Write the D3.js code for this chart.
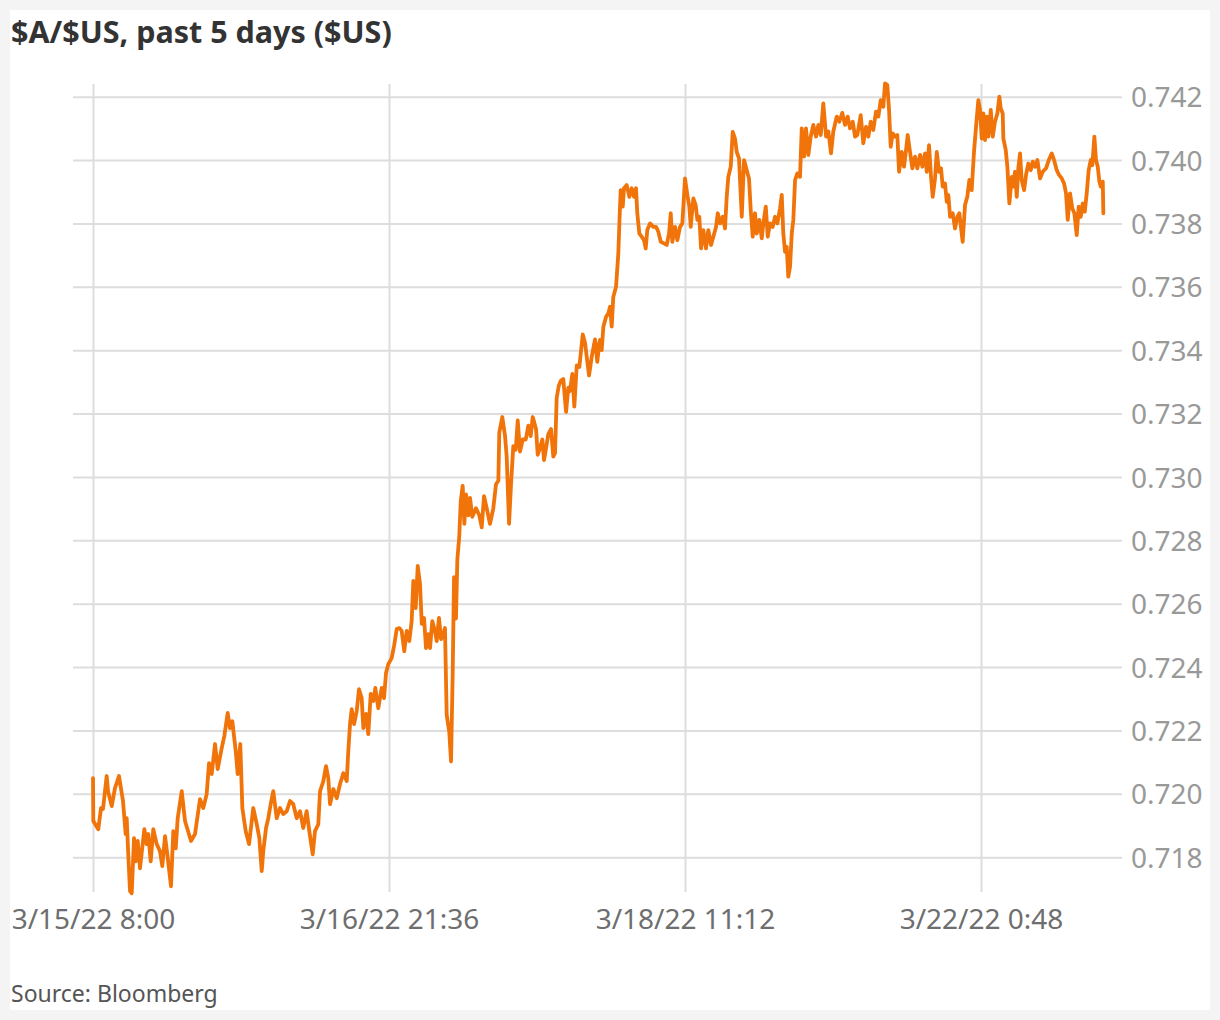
<!DOCTYPE html>
<html><head><meta charset="utf-8">
<script src="https://cdn.jsdelivr.net/npm/d3@7"></script>
<style>
html,body{margin:0;padding:0;background:#f4f4f4;}
svg{display:block;font-family:"Noto Sans","Open Sans",sans-serif;}
</style></head><body>
<svg id="chart" width="1220" height="1020"></svg>
<script>
const titleText = "$A/$US, past 5 days ($US)";
const sourceText = "Source: Bloomberg";
// trading hours since 3/15/22 8:00 (weekend removed)
const xTickHours = [0, 37.6, 75.2, 112.8];
const xTickLabels = ["3/15/22 8:00", "3/16/22 21:36", "3/18/22 11:12", "3/22/22 0:48"];
const yTicks = [0.718, 0.720, 0.722, 0.724, 0.726, 0.728, 0.730, 0.732, 0.734, 0.736, 0.738, 0.740, 0.742];

const hours = [
0,0.04,0.67,1.02,1.27,1.74,1.91,2.38,2.79,3.30,3.81,4.15,4.28,4.48,4.70,4.92,5.21,5.42,5.68,5.97,6.52,6.82,7.02,7.33,7.66,8.09,8.51,8.80,9.15,9.44,9.91,10.20,10.51,10.76,11.27,11.69,12.45,12.96,13.59,14.01,14.44,14.74,15.08,15.50,15.84,16.35,16.68,17.11,17.40,17.70,18.13,18.38,18.71,18.97,19.40,19.82,
20.36,20.80,21.13,21.43,21.63,21.98,22.27,22.57,22.90,23.34,23.75,24.17,24.61,25.03,25.44,25.88,26.30,26.71,27.14,27.48,27.91,28.20,28.62,28.84,29.26,29.60,29.89,30.11,30.53,30.96,31.38,31.80,32.23,32.43,32.65,32.86,33.16,33.50,33.79,34.13,34.34,34.68,34.97,35.28,35.61,35.86,36.24,36.67,36.97,37.22,37.51,37.94,38.24,38.58,38.91,39.21,39.54,39.85,40.18,40.48,40.69,40.99,41.25,41.54,41.76,42.05,42.30,42.59,42.81,43.10,43.44,43.66,43.95,44.21,44.50,44.71,
44.93,45.26,45.48,45.69,45.86,46.11,46.28,46.53,46.71,46.96,47.17,47.38,47.68,47.89,48.18,48.65,49.07,49.38,49.67,50.01,50.43,50.85,51.19,51.49,51.61,51.99,52.34,52.55,52.85,53.10,53.39,53.70,53.95,54.24,54.59,54.97,55.30,55.60,55.86,56.28,56.49,56.78,57.08,57.29,57.55,57.84,58.18,58.47,58.69,58.90,59.16,59.41,59.74,60.09,60.38,60.59,60.89,61.14,61.45,61.78,62.21,62.50,63.01,63.35,63.77,64.06,64.32,
64.41,64.62,64.83,65.17,65.46,65.68,65.89,66.09,66.44,66.73,66.88,67.03,67.29,67.45,67.80,68.13,68.43,68.72,68.98,69.14,69.40,69.70,69.99,70.21,70.41,70.76,71.18,71.52,71.81,72.12,72.53,72.88,73.17,73.39,73.59,73.93,74.23,74.57,74.86,75.08,75.20,75.50,75.75,75.93,76.26,76.56,76.77,77.02,77.24,77.53,77.87,78.16,78.51,78.80,79.14,79.36,79.65,79.99,80.28,80.50,80.70,81.01,81.26,81.55,81.77,82.06,82.41,82.70,83.04,83.33,83.55,83.80,84.09,84.31,84.64,84.95,85.15,85.46,85.71,86.00,86.34,86.64,86.93,87.27,87.49,87.69,87.91,88.12,88.32,88.54,88.76,88.96,89.18,89.47,
89.81,90.03,90.32,90.57,90.87,91.17,91.50,91.84,92.14,92.44,92.77,93.12,93.41,93.75,94.04,94.47,94.80,95.18,95.53,95.87,96.16,96.51,96.80,97.09,97.52,97.85,98.20,98.49,98.79,99.12,99.46,99.76,100.06,100.39,100.61,100.90,101.12,101.33,101.59,101.88,102.17,102.39,102.73,103.02,103.28,103.49,103.78,104.08,104.42,104.71,105.06,105.35,105.69,105.91,106.20,106.45,106.67,106.96,107.18,107.47,107.72,107.94,108.23,108.45,108.65,108.87,109.21,109.50,109.80,110.05,
110.47,110.77,111.06,111.32,111.62,111.91,112.17,112.46,112.68,112.89,113.10,113.31,113.53,113.73,114.04,114.29,114.58,114.88,115.13,115.31,115.56,115.64,115.94,116.15,116.40,116.71,116.91,117.12,117.34,117.54,117.76,117.97,118.27,118.52,118.81,119.12,119.37,119.67,119.96,120.30,120.64,121.06,121.41,121.79,122.08,122.42,122.71,123.06,123.35,123.60,123.82,124.11,124.40,124.66,124.96,125.21,125.47,125.72,125.98,126.23,126.48,126.74,126.94,127.20,127.41,127.63,127.84,128.01,128.27,128.34
];

const rates = [
0.72049,0.71914,0.71888,0.71955,0.71952,0.72056,0.72008,0.71961,0.72018,0.72056,0.71977,0.71873,0.71923,0.71809,0.71693,0.71686,0.71860,0.71787,0.71851,0.71765,0.71888,0.71841,0.71873,0.71787,0.71888,0.71841,0.71819,0.71772,0.71866,0.71809,0.71708,0.71882,0.71828,0.71923,0.72008,0.71914,0.71851,0.71873,0.71983,0.71955,0.71999,0.72097,0.72062,0.72157,0.72078,0.72144,0.72182,0.72255,0.72207,0.72229,0.72135,0.72062,0.72157,0.71955,0.71882,0.71841,
0.71955,0.71904,0.71860,0.71756,0.71819,0.71892,0.71923,0.71967,0.72008,0.71923,0.71955,0.71936,0.71945,0.71977,0.71967,0.71923,0.71945,0.71892,0.71945,0.71882,0.71809,0.71882,0.71904,0.72008,0.72040,0.72087,0.72049,0.71967,0.72015,0.71986,0.72031,0.72065,0.72040,0.72135,0.72220,0.72267,0.72220,0.72261,0.72330,0.72302,0.72207,0.72252,0.72188,0.72315,0.72293,0.72334,0.72270,0.72334,0.72302,0.72381,0.72409,0.72428,0.72466,0.72520,0.72523,0.72514,0.72450,0.72514,0.72482,0.72545,0.72672,0.72586,0.72719,0.72662,0.72536,0.72555,0.72460,0.72504,0.72460,0.72545,0.72514,0.72482,0.72555,0.72488,0.72504,0.72523,
0.72249,0.72194,0.72102,0.72379,0.72684,0.72553,0.72738,0.72814,0.72923,0.72972,0.72852,0.72945,0.72879,0.72934,0.72874,0.72901,0.72879,0.72841,0.72939,0.72901,0.72852,0.72901,0.72977,0.72988,0.73140,0.73189,0.73129,0.73064,0.72852,0.72977,0.73097,0.73086,0.73178,0.73080,0.73118,0.73118,0.73162,0.73129,0.73189,0.73151,0.73070,0.73091,0.73118,0.73053,0.73091,0.73135,0.73151,0.73064,0.73075,0.73249,0.73287,0.73303,0.73309,0.73205,0.73282,0.73271,0.73325,0.73222,0.73352,0.73347,0.73450,0.73423,0.73320,0.73379,0.73434,0.73363,0.73423,
0.73432,0.73400,0.73474,0.73505,0.73516,0.73537,0.73474,0.73568,0.73600,0.73705,0.73811,0.73905,0.73853,0.73911,0.73921,0.73884,0.73911,0.73884,0.73911,0.73832,0.73768,0.73758,0.73747,0.73721,0.73779,0.73800,0.73789,0.73789,0.73774,0.73742,0.73737,0.73732,0.73768,0.73832,0.73742,0.73789,0.73747,0.73789,0.73800,0.73890,0.73942,0.73890,0.73853,0.73789,0.73879,0.73858,0.73811,0.73821,0.73721,0.73779,0.73721,0.73779,0.73732,0.73758,0.73789,0.73832,0.73800,0.73821,0.73784,0.73884,0.73947,0.73979,0.74089,0.74068,0.74026,0.74005,0.73821,0.74000,0.73968,0.73942,0.73842,0.73758,0.73832,0.73768,0.73811,0.73753,0.73800,0.73853,0.73758,0.73800,0.73789,0.73821,0.73800,0.73847,0.73890,0.73768,0.73710,0.73726,0.73632,0.73663,0.73768,0.73811,0.73937,0.73958,
0.73947,0.74100,0.74011,0.74100,0.74016,0.74074,0.74111,0.74074,0.74111,0.74079,0.74179,0.74074,0.74090,0.74021,0.74090,0.74137,0.74121,0.74149,0.74111,0.74137,0.74100,0.74121,0.74074,0.74079,0.74142,0.74053,0.74105,0.74074,0.74121,0.74095,0.74153,0.74137,0.74189,0.74168,0.74242,0.74237,0.74158,0.74042,0.74084,0.74074,0.74079,0.73963,0.74026,0.73979,0.74032,0.74079,0.74026,0.73974,0.74011,0.73974,0.74016,0.73979,0.74021,0.73963,0.74047,0.73947,0.73884,0.73942,0.74026,0.73963,0.73974,0.73916,0.73926,0.73868,0.73889,0.73821,0.73832,0.73784,0.73821,0.73832,
0.73742,0.73858,0.73884,0.73937,0.73905,0.74026,0.74105,0.74189,0.74158,0.74068,0.74147,0.74063,0.74137,0.74074,0.74158,0.74074,0.74121,0.74147,0.74200,0.74163,0.74147,0.74068,0.74032,0.73979,0.73863,0.73947,0.73916,0.73963,0.73884,0.73974,0.74021,0.73937,0.73905,0.73953,0.73989,0.73968,0.73995,0.73979,0.74000,0.73942,0.73963,0.73974,0.74000,0.74021,0.74000,0.73968,0.73953,0.73942,0.73926,0.73895,0.73811,0.73895,0.73847,0.73832,0.73763,0.73853,0.73821,0.73863,0.73837,0.73895,0.73968,0.74000,0.73984,0.74074,0.74000,0.73979,0.73932,0.73916,0.73932,0.73832
];

const svg = d3.select("#chart");
svg.append("rect").attr("x", 10).attr("y", 10).attr("width", 1200).attr("height", 1000).attr("fill", "#ffffff");

const plotLeft = 73, plotRight = 1122, plotTop = 84, plotBottom = 892;
const x = d3.scaleLinear().domain([0, 112.8]).range([93, 981]);
const y = d3.scaleLinear().domain([0.7169, 0.7424]).range([plotBottom, plotTop]);

// Y axis (right) with horizontal gridlines
const yAxis = d3.axisRight(y)
  .tickValues(yTicks)
  .tickSize(-(plotRight - plotLeft))
  .tickPadding(9)
  .tickFormat(d3.format(".3f"));
const gy = svg.append("g").attr("transform", `translate(${plotRight},0)`).call(yAxis);
gy.select(".domain").remove();
gy.selectAll(".tick line").attr("stroke", "#dddddd").attr("stroke-width", 2);
gy.selectAll(".tick text").attr("fill", "#999999").attr("font-size", 28)
  .attr("font-family", '"Noto Sans","Open Sans",sans-serif').attr("dy", "0.36em");

// X axis with vertical gridlines
const xAxis = d3.axisBottom(x)
  .tickValues(xTickHours)
  .tickSize(-(plotBottom - plotTop))
  .tickPadding(17)
  .tickFormat((d, i) => xTickLabels[i]);
const gx = svg.append("g").attr("transform", `translate(0,${plotBottom})`).call(xAxis);
gx.select(".domain").remove();
gx.selectAll(".tick line").attr("stroke", "#dddddd").attr("stroke-width", 2);
gx.selectAll(".tick text").attr("fill", "#6e6e6e").attr("font-size", 28)
  .attr("font-family", '"Noto Sans","Open Sans",sans-serif');

// Line
const line = d3.line()
  .x(i => x(hours[i]))
  .y(i => y(rates[i]))
  .curve(d3.curveLinear);
svg.append("path")
  .datum(d3.range(Math.min(hours.length, rates.length)))
  .attr("d", line)
  .attr("fill", "none")
  .attr("stroke", "#f07409")
  .attr("stroke-width", 3.8)
  .attr("stroke-linejoin", "round")
  .attr("stroke-linecap", "round");

// Title
svg.append("text").attr("x", 11).attr("y", 43)
  .attr("font-size", 30.5).attr("font-weight", "bold").attr("fill", "#333333")
  .text(titleText);

// Source
svg.append("text").attr("x", 11).attr("y", 1002)
  .attr("font-size", 23).attr("fill", "#555555")
  .text(sourceText);
</script>
</body></html>
